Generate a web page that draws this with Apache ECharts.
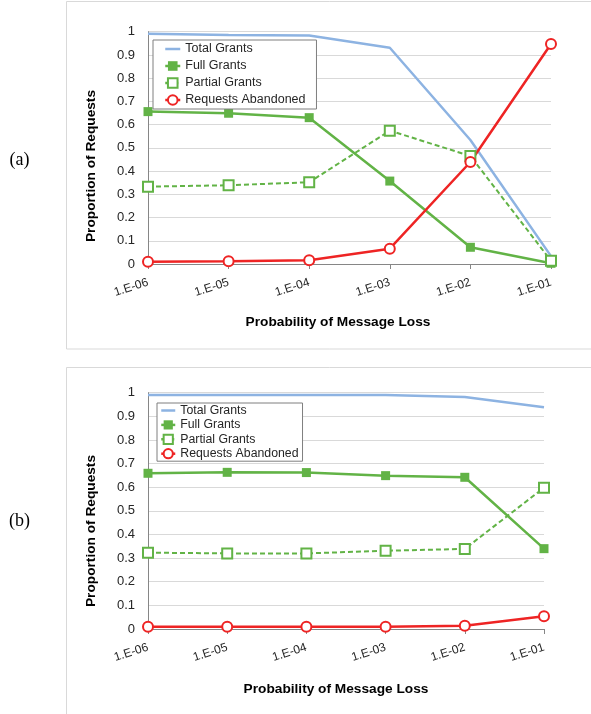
<!DOCTYPE html>
<html>
<head>
<meta charset="utf-8">
<script src="https://cdn.jsdelivr.net/npm/echarts@6/dist/echarts.min.js"></script>
<style>
html,body{margin:0;padding:0;background:#fff;}
#c{width:591px;height:714px;}
</style>
</head>
<body>
<div id="c"></div>
<script>
const categories = ['1.E-06','1.E-05','1.E-04','1.E-03','1.E-02','1.E-01'];
const yTicks = [0,0.1,0.2,0.3,0.4,0.5,0.6,0.7,0.8,0.9,1];
const seriesNames = ['Total Grants','Full Grants','Partial Grants','Requests Abandoned'];

// Chart (a)
const aTotal     = [0.991, 0.986, 0.984, 0.931, 0.534, 0.034];
const aFull      = [0.656, 0.649, 0.630, 0.357, 0.072, 0.003];
const aPartial   = [0.333, 0.339, 0.352, 0.574, 0.465, 0.014];
const aAbandoned = [0.010, 0.012, 0.016, 0.066, 0.439, 0.947];

// Chart (b)
const bTotal     = [0.990, 0.990, 0.990, 0.990, 0.982, 0.938];
const bFull      = [0.659, 0.663, 0.662, 0.649, 0.642, 0.340];
const bPartial   = [0.323, 0.320, 0.320, 0.331, 0.339, 0.598];
const bAbandoned = [0.010, 0.010, 0.010, 0.010, 0.014, 0.054];

const BLUE = '#8db3e2', GREEN = '#62b346', RED = '#ee2424';
const FONT = 'Liberation Sans';

function makeSeries(idx, data) {
  return [
    {name: seriesNames[0], type:'line', xAxisIndex:idx, yAxisIndex:idx, data:data[0],
     symbol:'none', lineStyle:{color:BLUE, width:2.5}, itemStyle:{color:BLUE}},
    {name: seriesNames[1], type:'line', xAxisIndex:idx, yAxisIndex:idx, data:data[1],
     symbol:'rect', symbolSize:9, lineStyle:{color:GREEN, width:2.5}, itemStyle:{color:GREEN}},
    {name: seriesNames[2], type:'line', xAxisIndex:idx, yAxisIndex:idx, data:data[2],
     symbol:'rect', symbolSize:10, lineStyle:{color:GREEN, width:2, type:[5,3]},
     itemStyle:{color:'#fff', borderColor:GREEN, borderWidth:2}},
    {name: seriesNames[3], type:'line', xAxisIndex:idx, yAxisIndex:idx, data:data[3],
     symbol:'circle', symbolSize:10, lineStyle:{color:RED, width:2.5},
     itemStyle:{color:'#fff', borderColor:RED, borderWidth:2}}
  ].map(s => Object.assign(s, {animation:false, silent:true}));
}

function xAx(idx) {
  return {type:'category', gridIndex:idx, data:categories, boundaryGap:false,
    axisLine:{lineStyle:{color:'#868686', width:1}},
    axisTick:{show:true, length:5, lineStyle:{color:'#868686'}},
    axisLabel:{rotate:18, margin:18, fontSize:12, fontFamily:FONT, color:'#262626'},
    splitLine:{show:false}};
}
function yAx(idx) {
  return {type:'value', gridIndex:idx, min:yTicks[0], max:yTicks[yTicks.length-1], interval:0.1,
    axisLine:{show:true, lineStyle:{color:'#868686', width:1}},
    axisTick:{show:false},
    axisLabel:{margin:13, fontSize:13, fontFamily:FONT, color:'#262626'},
    splitLine:{lineStyle:{color:'#d9d9d9', width:1}}};
}
function legend(left, top, gap, pad, iw, ih, fs) {
  return {orient:'vertical', left:left, top:top, itemGap:gap,
    itemWidth:iw, itemHeight:ih, padding:pad,
    borderColor:'#7f7f7f', borderWidth:1, backgroundColor:'#fff',
    lineStyle:{width:2.5},
    textStyle:{fontSize:fs, fontFamily:FONT, color:'#262626'},
    data:seriesNames.map((n,i) => i === 0 ? {name:n, itemStyle:{opacity:0}} : {name:n})};
}

const chart = echarts.init(document.getElementById('c'), null, {renderer:'canvas'});
chart.setOption({
  animation:false,
  backgroundColor:'#fff',
  grid:[
    {left:148, top:31.7, width:403, height:232.3},
    {left:148, top:392.7, width:396, height:236.3}
  ],
  xAxis:[xAx(0), xAx(1)],
  yAxis:[yAx(0), yAx(1)],
  legend:[
    legend(153, 40, 4, [2.5, 11, 2.5, 11], 15, 12, 12.5),
    legend(157, 403, 2.4, [1.5, 4, 1.5, 3], 14, 11.5, 12.3)
  ],
  series:[...makeSeries(0,[aTotal,aFull,aPartial,aAbandoned]), ...makeSeries(1,[bTotal,bFull,bPartial,bAbandoned])],
  graphic:[
    {type:'rect', z:-10, shape:{x:66.5, y:1.5, width:600, height:347.5}, style:{fill:'none', stroke:'#d9d9d9', lineWidth:1}},
    {type:'rect', z:-10, shape:{x:66.5, y:367.5, width:600, height:400}, style:{fill:'none', stroke:'#d9d9d9', lineWidth:1}},
    {type:'text', x:19.5, y:160, style:{text:'(a)', font:'18px "Liberation Serif"', fill:'#000', align:'center', verticalAlign:'middle'}},
    {type:'text', x:19.5, y:521, style:{text:'(b)', font:'18px "Liberation Serif"', fill:'#000', align:'center', verticalAlign:'middle'}},
    {type:'text', x:338, y:322, style:{text:'Probability of Message Loss', font:'bold 13.7px "Liberation Sans"', fill:'#000', align:'center', verticalAlign:'middle'}},
    {type:'text', x:336, y:689, style:{text:'Probability of Message Loss', font:'bold 13.7px "Liberation Sans"', fill:'#000', align:'center', verticalAlign:'middle'}},
    {type:'text', x:91, y:166, rotation:Math.PI/2, style:{text:'Proportion of Requests', font:'bold 13.7px "Liberation Sans"', fill:'#000', align:'center', verticalAlign:'middle'}},
    {type:'text', x:91, y:531, rotation:Math.PI/2, style:{text:'Proportion of Requests', font:'bold 13.7px "Liberation Sans"', fill:'#000', align:'center', verticalAlign:'middle'}}
  ]
});
</script>
</body>
</html>
